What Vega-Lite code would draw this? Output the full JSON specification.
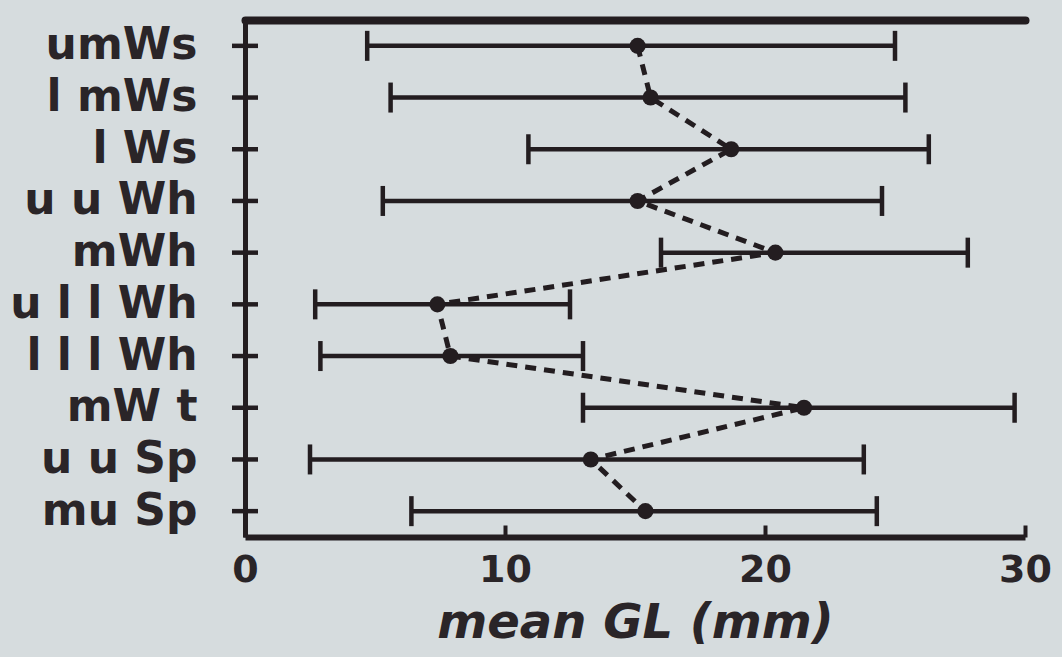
{
  "$schema": "https://vega.github.io/schema/vega-lite/v6.json",
  "width": 780,
  "height": 517,
  "autosize": {"type": "none"},
  "padding": {"left": 245, "top": 20, "right": 37, "bottom": 120},
  "background": "#d6dcde",
  "config": {
    "view": {"stroke": null},
    "font": "DejaVu Sans"
  },
  "data": {
    "values": [
      {"idx": 1, "cat": "umWs", "lo": 4.7, "mean": 15.1, "hi": 25.0},
      {"idx": 2, "cat": "l mWs", "lo": 5.6, "mean": 15.6, "hi": 25.4},
      {"idx": 3, "cat": "l Ws", "lo": 10.9, "mean": 18.7, "hi": 26.3},
      {"idx": 4, "cat": "u u Wh", "lo": 5.3, "mean": 15.1, "hi": 24.5},
      {"idx": 5, "cat": "mWh", "lo": 16.0, "mean": 20.4, "hi": 27.8},
      {"idx": 6, "cat": "u l  l Wh", "lo": 2.7, "mean": 7.4, "hi": 12.5},
      {"idx": 7, "cat": "l  l  l Wh", "lo": 2.9, "mean": 7.9, "hi": 13.0},
      {"idx": 8, "cat": "mW t", "lo": 13.0, "mean": 21.5, "hi": 29.6},
      {"idx": 9, "cat": "u u Sp", "lo": 2.5, "mean": 13.3, "hi": 23.8},
      {"idx": 10, "cat": "mu Sp", "lo": 6.4, "mean": 15.4, "hi": 24.3}
    ]
  },
  "resolve": {"axis": {"x": "independent"}},
  "encoding": {
    "y": {
      "field": "cat",
      "type": "ordinal",
      "sort": {"field": "idx"},
      "scale": {"type": "point", "padding": 0.5},
      "axis": {
        "title": null,
        "ticks": false,
        "domainWidth": 5,
        "domainColor": "#231d20",
        "labelFontSize": 44,
        "labelFontWeight": "bold",
        "labelColor": "#2a2528",
        "labelPadding": 48,
        "labelLimit": 0,
        "labelFont": "DejaVu Sans"
      }
    }
  },
  "layer": [
    {
      "mark": {"type": "rule", "strokeWidth": 4.5, "color": "#231d20"},
      "encoding": {
        "x": {
          "field": "lo",
          "type": "quantitative",
          "scale": {"domain": [0, 30], "nice": false, "zero": true},
          "axis": {
            "orient": "bottom",
            "values": [0, 10, 20, 30],
            "domainWidth": 6,
            "domainColor": "#231d20",
            "tickColor": "#231d20",
            "tickWidth": 4,
            "tickSize": -12,
            "labelFontSize": 38,
            "labelFontWeight": "bold",
            "labelColor": "#2a2528",
            "labelPadding": 26,
            "labelFlush": false,
            "grid": false,
            "title": "mean   GL  (mm)",
            "titleFontSize": 48,
            "titleFontStyle": "italic",
            "titleFontWeight": "bold",
            "titleColor": "#2a2528",
            "titlePadding": 10
          }
        },
        "x2": {"field": "hi"}
      }
    },
    {
      "mark": {"type": "tick", "orient": "vertical", "size": 30, "thickness": 4.5, "opacity": 1, "color": "#231d20"},
      "encoding": {
        "x": {
          "field": "lo",
          "type": "quantitative",
          "axis": {
            "orient": "top",
            "domainWidth": 8,
            "domainColor": "#231d20",
            "domainCap": "round",
            "ticks": false,
            "labels": false,
            "grid": false,
            "title": null
          }
        }
      }
    },
    {
      "mark": {"type": "tick", "orient": "vertical", "size": 30, "thickness": 4.5, "opacity": 1, "color": "#231d20"},
      "encoding": {
        "x": {"field": "hi", "type": "quantitative", "axis": null}
      }
    },
    {
      "mark": {"type": "tick", "orient": "horizontal", "size": 26, "thickness": 4.5, "opacity": 1, "color": "#231d20"},
      "encoding": {
        "x": {"datum": 0, "type": "quantitative", "axis": null}
      }
    },
    {
      "mark": {"type": "line", "strokeWidth": 5, "strokeDash": [11, 8], "color": "#231d20"},
      "encoding": {
        "x": {"field": "mean", "type": "quantitative", "axis": null},
        "order": {"field": "idx"}
      }
    },
    {
      "mark": {"type": "point", "filled": true, "shape": "circle", "size": 260, "opacity": 1, "color": "#231d20"},
      "encoding": {
        "x": {"field": "mean", "type": "quantitative", "axis": null}
      }
    }
  ]
}
